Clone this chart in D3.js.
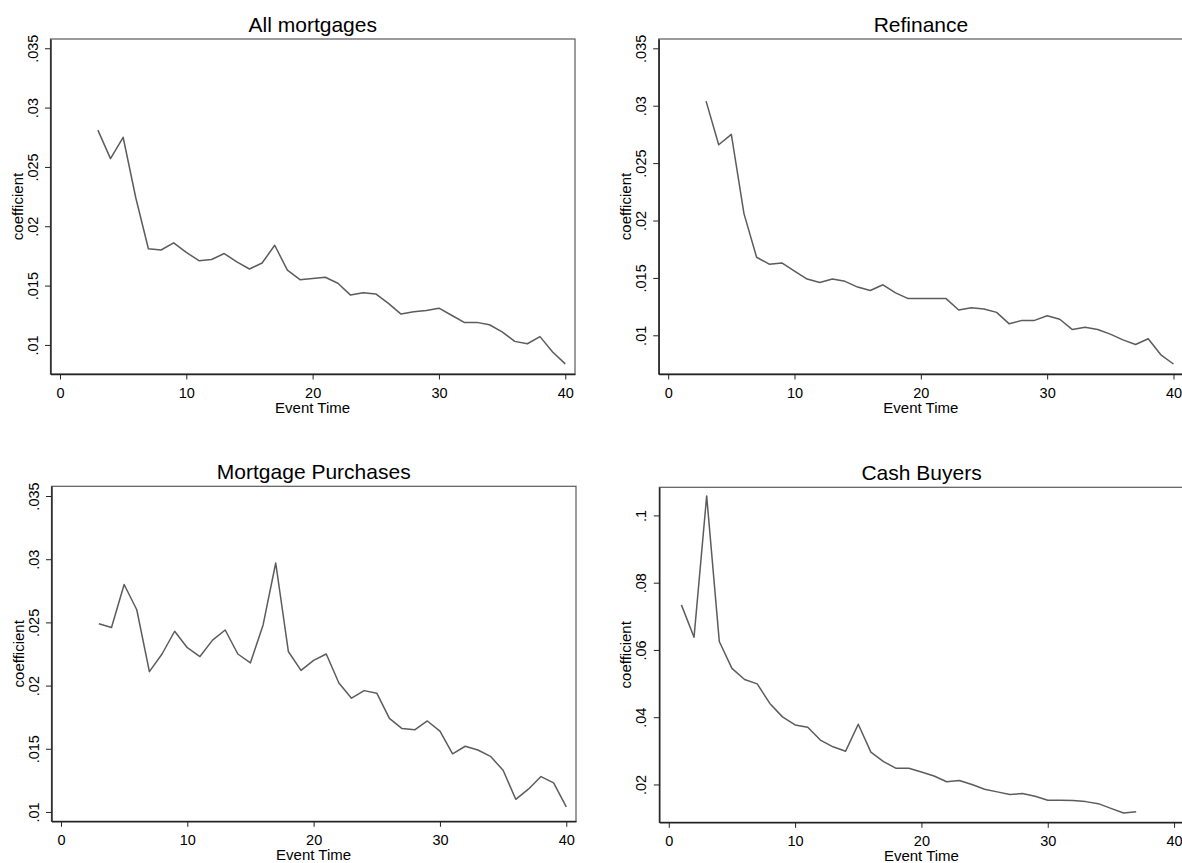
<!DOCTYPE html>
<html lang="en">
<head>
<meta charset="UTF-8">
<title>coefficients by event time</title>
<script src="https://cdn.jsdelivr.net/npm/d3@7"></script>
<style>
  body { margin: 0; background: #fff; }
  svg { display: block; font-family: "Liberation Sans", Arial, sans-serif; }
</style>
</head>
<body>
<div id="output"></div>
<script>

// panel titles
var titles = ["All mortgages", "Refinance", "Mortgage Purchases", "Cash Buyers"];

// event time values (x)
var timeFrom3 = d3.range(3, 41);   // 3..40
var timeFrom1 = d3.range(1, 38);   // 1..37

// coefficients
var allMortgages = [0.0281, 0.0257, 0.0275, 0.0224, 0.0181, 0.0180, 0.0186, 0.0178, 0.0171, 0.0172,
    0.0177, 0.0170, 0.0164, 0.0169, 0.0184, 0.0163, 0.0155, 0.0156, 0.0157, 0.0152,
    0.0142, 0.0144, 0.0143, 0.0135, 0.0126, 0.0128, 0.0129, 0.0131, 0.0125, 0.0119,
    0.0119, 0.0117, 0.0111, 0.0103, 0.0101, 0.0107, 0.0094, 0.0084];

var refinance = [0.0304, 0.0266, 0.0275, 0.0206, 0.0168, 0.0162, 0.0163, 0.0156, 0.0149, 0.0146,
    0.0149, 0.0147, 0.0142, 0.0139, 0.0144, 0.0137, 0.0132, 0.0132, 0.0132, 0.0132,
    0.0122, 0.0124, 0.0123, 0.0120, 0.0110, 0.0113, 0.0113, 0.0117, 0.0114, 0.0105,
    0.0107, 0.0105, 0.0101, 0.0096, 0.0092, 0.0097, 0.0083, 0.0075];

var purchases = [0.0249, 0.0246, 0.0280, 0.0260, 0.0211, 0.0225, 0.0243, 0.0230, 0.0223, 0.0236,
    0.0244, 0.0225, 0.0218, 0.0248, 0.0297, 0.0227, 0.0212, 0.0220, 0.0225, 0.0202,
    0.0190, 0.0196, 0.0194, 0.0174, 0.0166, 0.0165, 0.0172, 0.0164, 0.0146, 0.0152,
    0.0149, 0.0144, 0.0133, 0.0110, 0.0118, 0.0128, 0.0123, 0.0104];

var cashBuyers = [0.0734, 0.0638, 0.1058, 0.0625, 0.0545, 0.0512, 0.0499, 0.0441, 0.0401, 0.0377,
    0.0370, 0.0332, 0.0312, 0.0299, 0.0379, 0.0296, 0.0268, 0.0248, 0.0248, 0.0237,
    0.0225, 0.0208, 0.0212, 0.0200, 0.0186, 0.0178, 0.0170, 0.0173, 0.0165, 0.0153,
    0.0153, 0.0152, 0.0149, 0.0143, 0.0129, 0.0115, 0.0119];

// axis ticks
var xTicks = [0, 10, 20, 30, 40];
var yTicksSmall = [0.01, 0.015, 0.02, 0.025, 0.03, 0.035];
var yTicksCash = [0.02, 0.04, 0.06, 0.08, 0.1];

var panels = [
    { title: titles[0], x: timeFrom3, y: allMortgages, yDomain: [0.00755, 0.03578], yTicks: yTicksSmall, left: 50.5, top: 39 },
    { title: titles[1], x: timeFrom3, y: refinance,    yDomain: [0.00663, 0.03581], yTicks: yTicksSmall, left: 658.7, top: 39 },
    { title: titles[2], x: timeFrom3, y: purchases,    yDomain: [0.00926, 0.03577], yTicks: yTicksSmall, left: 51.5, top: 486.3 },
    { title: titles[3], x: timeFrom1, y: cashBuyers,   yDomain: [0.00875, 0.10836], yTicks: yTicksCash,  left: 659.3, top: 487.3 }
];

var W = 1182, H = 863;
var pw = 524.5, ph = 335;

var svg = d3.select("#output")
    .append("svg")
    .attr("width", W)
    .attr("height", H);

// stata-ish label: ".035" instead of "0.035"
function stataFmt(v) {
    return String(+v.toFixed(4)).replace(/^0\./, ".");
}

panels.forEach(function(p) {
    var g = svg.append("g")
        .attr("transform", "translate(" + p.left + "," + p.top + ")");

    var x = d3.scaleLinear().domain([-0.75, 40.77]).range([0, pw]);
    var y = d3.scaleLinear().domain(p.yDomain).range([ph, 0]);

    // frame
    g.append("rect")
        .attr("width", pw)
        .attr("height", ph)
        .attr("fill", "none")
        .attr("stroke", "#5a5a5a")
        .attr("stroke-width", 1.2);

    var yAxis = g.append("g")
        .call(d3.axisLeft(y).tickValues(p.yTicks).tickSize(5.5).tickSizeOuter(0).tickFormat(stataFmt));
    yAxis.select(".domain").attr("stroke", "#222").attr("stroke-width", 1.4);
    yAxis.selectAll(".tick line").attr("stroke", "#222");
    yAxis.selectAll(".tick text")
        .attr("transform", "rotate(-90)")
        .attr("x", 0)
        .attr("y", -13)
        .attr("dy", 0)
        .attr("text-anchor", "middle")
        .attr("fill", "#000")
        .style("font-size", "14.5px")
        .style("font-family", "'Liberation Sans', Arial, sans-serif");

    var xAxis = g.append("g")
        .attr("transform", "translate(0," + ph + ")")
        .call(d3.axisBottom(x).tickValues(xTicks).tickSize(5.5).tickSizeOuter(0));
    xAxis.select(".domain").attr("stroke", "#222").attr("stroke-width", 1.4);
    xAxis.selectAll(".tick line").attr("stroke", "#222");
    xAxis.selectAll(".tick text")
        .attr("y", 23.5)
        .attr("dy", 0)
        .attr("fill", "#000")
        .style("font-size", "14.5px")
        .style("font-family", "'Liberation Sans', Arial, sans-serif");

    var line = d3.line()
        .x(function(d, i) { return x(p.x[i]); })
        .y(function(d) { return y(d); });

    g.append("path")
        .datum(p.y)
        .attr("d", line)
        .attr("fill", "none")
        .attr("stroke", "#5c5c5c")
        .attr("stroke-width", 1.5)
        .attr("stroke-linejoin", "round");

    g.append("text")
        .attr("x", pw / 2)
        .attr("y", -7)
        .attr("text-anchor", "middle")
        .style("font-size", "21px")
        .text(p.title);

    g.append("text")
        .attr("x", x(20))
        .attr("y", ph + 38.5)
        .attr("text-anchor", "middle")
        .style("font-size", "15px")
        .text("Event Time");

    g.append("text")
        .attr("transform", "translate(-28," + (ph / 2) + ") rotate(-90)")
        .attr("text-anchor", "middle")
        .style("font-size", "15px")
        .text("coefficient");
});

</script>
</body>
</html>
